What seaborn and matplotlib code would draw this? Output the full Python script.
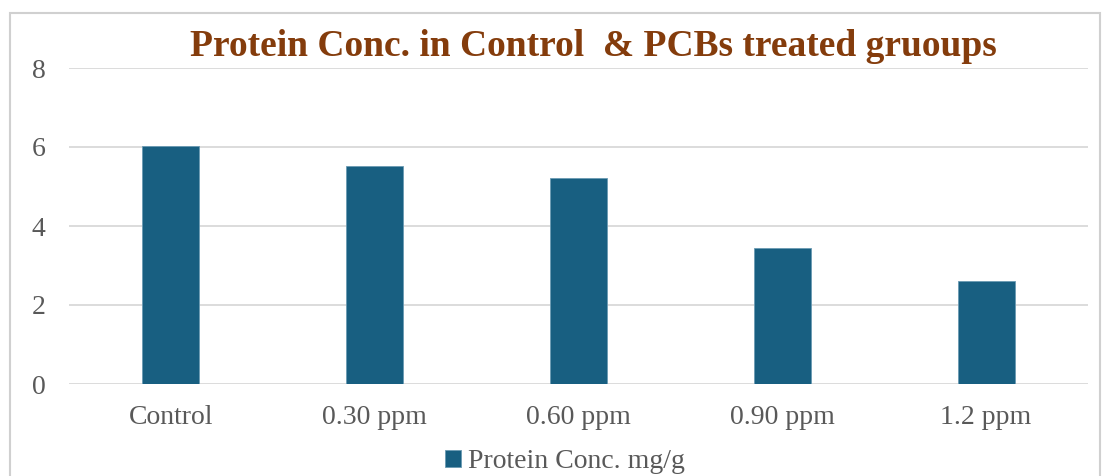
import matplotlib
matplotlib.use("Agg")
import matplotlib.pyplot as plt
import seaborn as sns
import pandas as pd
from matplotlib.patches import Rectangle

categories = ["Control", "0.30 ppm", "0.60 ppm", "0.90 ppm", "1.2 ppm"]
protein_conc = [6.03, 5.52, 5.22, 3.45, 2.61]
series_name = "Protein Conc. mg/g"
y_ticks = [0, 2, 4, 6, 8]

df = pd.DataFrame({"group": categories, "value": protein_conc})

sns.set_theme(style="white")
plt.rcParams["font.family"] = ["Liberation Serif", "DejaVu Serif"]

W, H = 1102, 476
fig = plt.figure(figsize=(W / 100, H / 100), dpi=100)
ax = fig.add_axes([69 / W, 1 - 384 / H, (1088 - 69) / W, (384 - 68) / H])

bar_color = "#185F81"
sns.barplot(data=df, x="group", y="value", color=bar_color, width=0.28,
            ax=ax, label=series_name, saturation=1, edgecolor="#6a9ab3", linewidth=0.6,
            zorder=3, legend=False)

ax.set_ylim(0, 8)
ax.set_yticks(y_ticks)
ax.set_xlim(-0.5, len(categories) - 0.5)
ax.yaxis.grid(True, color="#d9d9d9", linewidth=1.3, zorder=0)
ax.set_axisbelow(True)
for s in ax.spines.values():
    s.set_visible(False)
ax.set_xlabel("")
ax.set_ylabel("")
if ax.get_legend() is not None:
    ax.get_legend().remove()
ax.tick_params(axis="both", length=0, labelsize=20, labelcolor="#595959")
ax.tick_params(axis="y", pad=17)
ax.tick_params(axis="x", pad=15)

fig.text(0.538, 1 - 46 / H, "Protein Conc. in Control  & PCBs treated gruoups",
         ha="center", va="center", fontsize=27, fontweight="bold", color="#843C0C")

handles, labels = ax.get_legend_handles_labels()
leg = fig.legend(handles[:1], labels[:1], loc="center", bbox_to_anchor=(565 / W, 1 - 462 / H),
                 frameon=False, fontsize=20, handlelength=0.55, handleheight=0.55,
                 handletextpad=0.25, borderpad=0)
for t in leg.get_texts():
    t.set_color("#595959")

fig.add_artist(Rectangle((10 / W, -0.01), 1 - 12 / W, 1 - 13 / H + 0.01, transform=fig.transFigure,
                         fill=False, edgecolor="#d0d0d0", linewidth=1.5))

fig.savefig("out.png", dpi=100, facecolor="white")
